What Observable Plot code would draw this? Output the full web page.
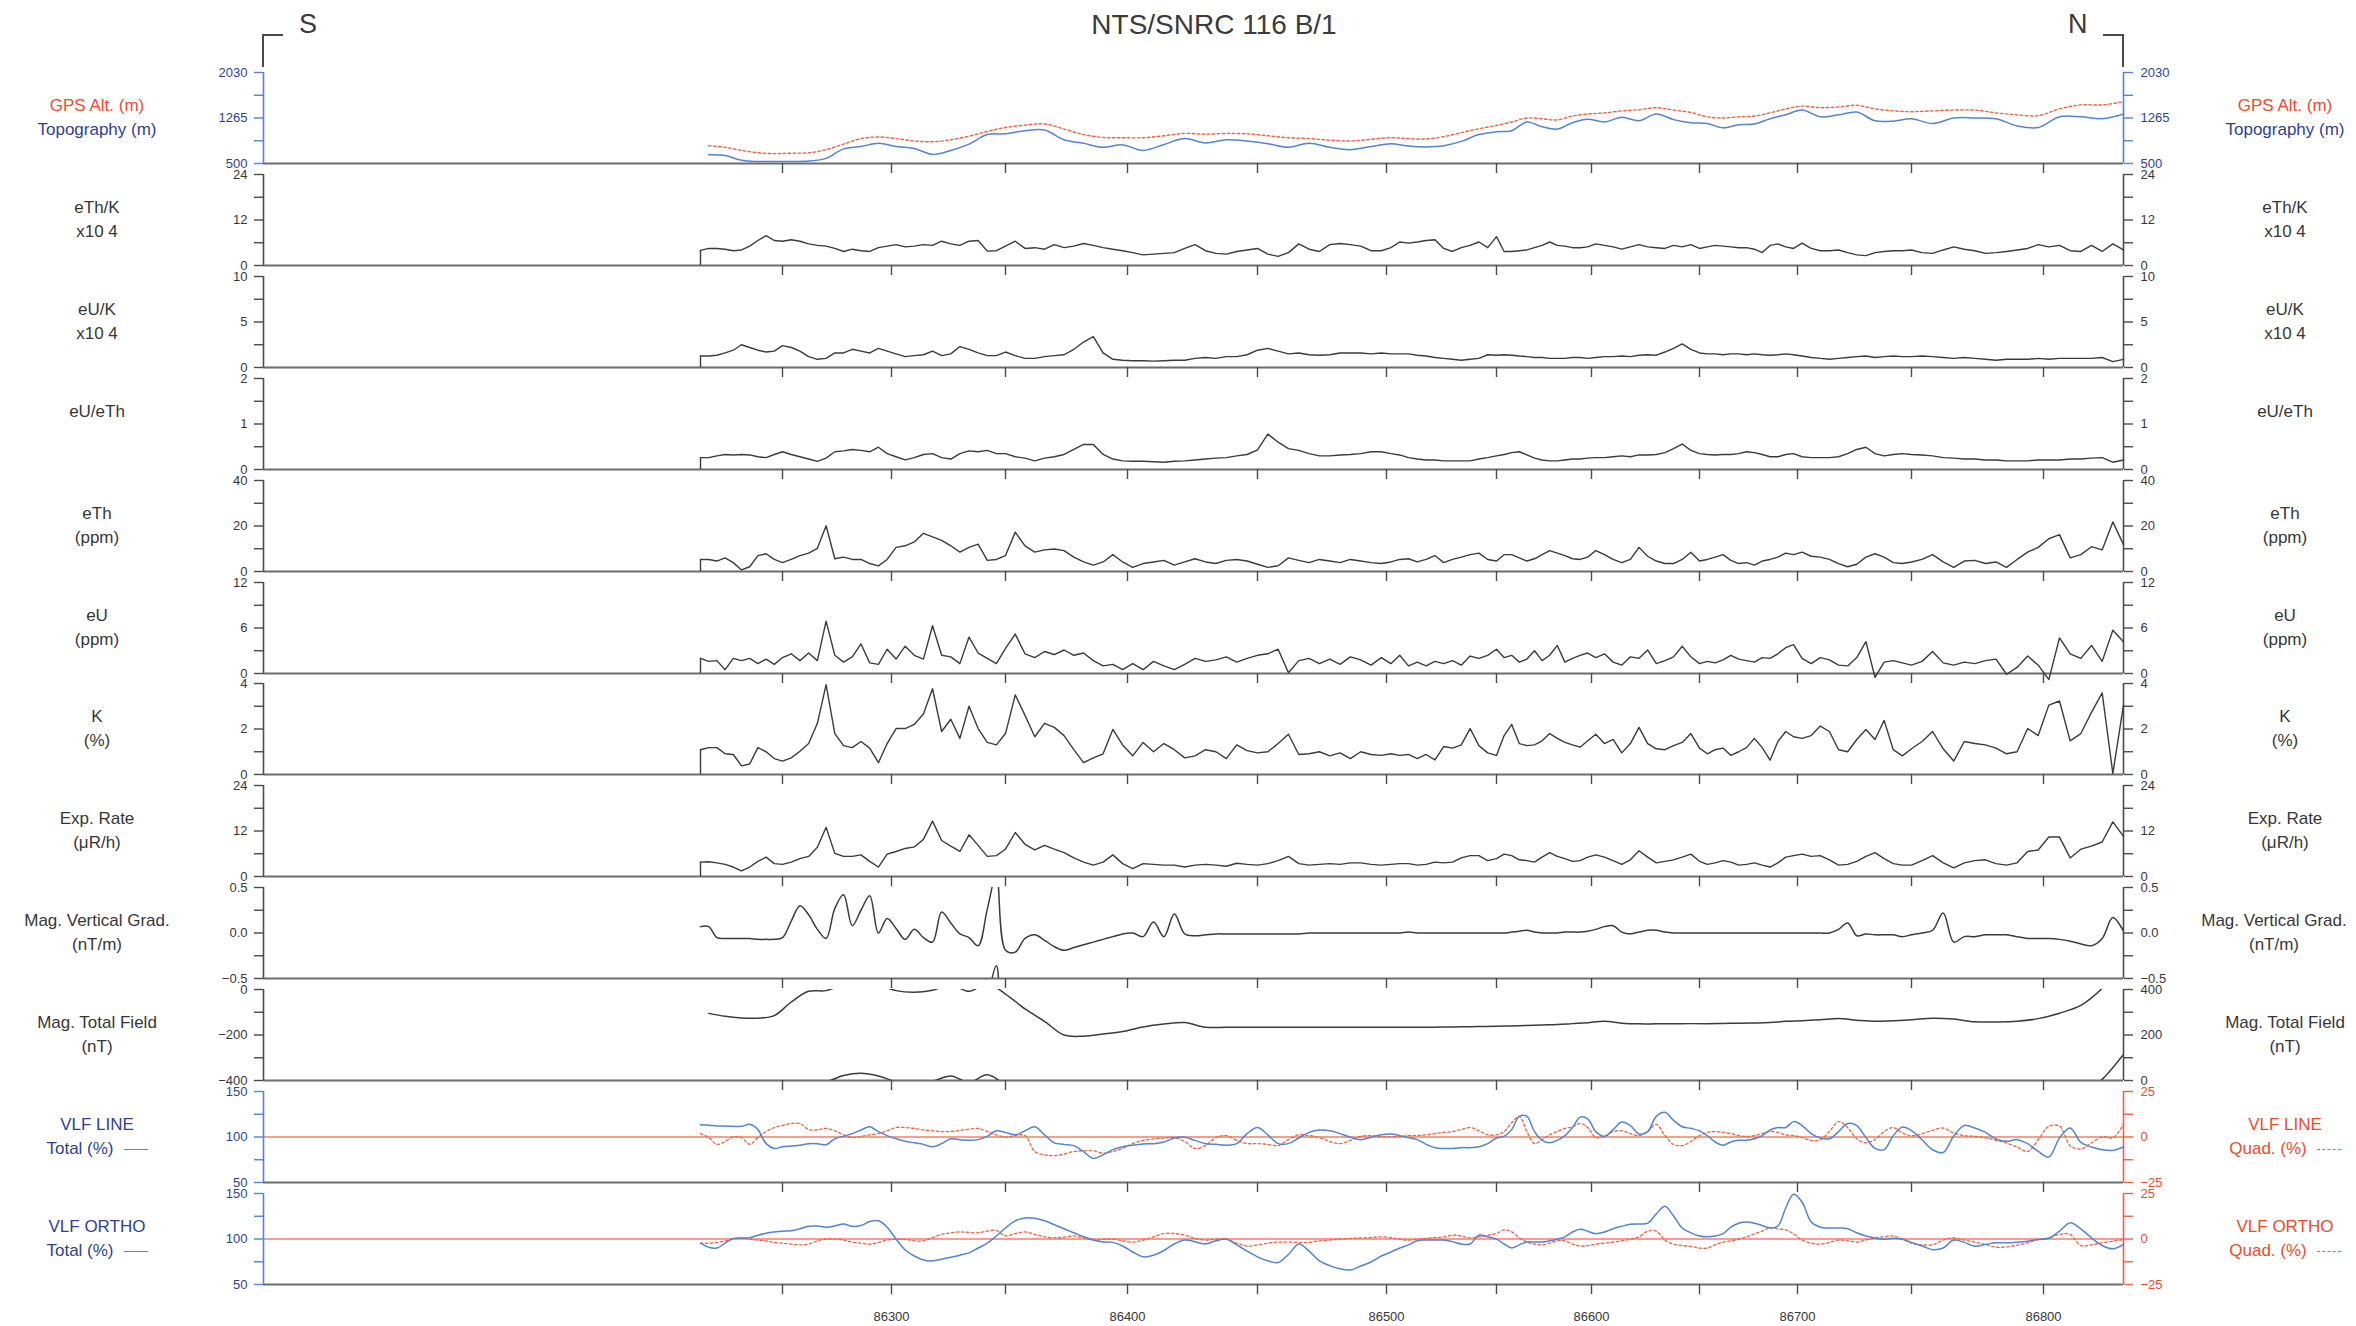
<!DOCTYPE html>
<html><head><meta charset="utf-8">
<script src="https://cdn.jsdelivr.net/npm/d3@7"></script>
<script src="https://cdn.jsdelivr.net/npm/@observablehq/plot@0.6"></script>
<style>
html,body{margin:0;padding:0;background:#fff;}
#chart{position:relative;width:2356px;height:1326px;overflow:hidden;font-family:"Liberation Sans",Arial,Helvetica,sans-serif;color:#363636;background:#fff;}
.lbl{position:absolute;text-align:center;font-size:17px;line-height:24px;white-space:nowrap;}
.mk{display:inline-block;width:24px;height:0;vertical-align:middle;margin-left:10px;}
</style></head><body><div id="chart"></div>
<script>
// ---------------- DATA ----------------
// sample fiducials
const fineFid = d3.range(86210, 86831, 4);    // 156 samples
const coarseFid = d3.range(86214, 86831, 8);  // 78 samples
// x-axis fiducial ticks and labels
const tickFid = d3.range(86250, 86801, 50);
const labelFid = [86300, 86400, 86500, 86600, 86700, 86800];
// fiducial knots of the (non-uniform) flight-line axis
const knotFid = [86000, 86210, 86250, 86300, 86350, 86400, 86450, 86500, 86550, 86600, 86650, 86700, 86750, 86800, 86830];

const topography = [646,633,553,533,533,533,540,586,746,786,
839,786,753,653,720,826,986,999,1052,1065,
899,839,773,813,720,819,919,846,899,879,
833,773,839,773,733,786,833,793,
779,799,872,986,1032,1052,1198,1119,1079,1185,
1245,1198,1278,1218,1331,1238,1185,1172,1099,1152,
1165,1252,1318,1398,1285,1318,1365,1218,1212,1252,
1172,1265,1265,1252,1132,1105,1285,1285,1252,1331];

const gpsAlt = [799,773,720,680,666,673,680,733,826,919,
946,919,879,866,899,959,1039,1105,1145,1165,
1079,986,939,933,933,966,1006,992,1006,999,
966,933,919,892,879,906,933,919,
912,952,1019,1085,1139,1198,1265,1252,1232,1298,
1331,1351,1385,1405,1438,1398,1358,1285,1265,1285,
1298,1351,1418,1465,1438,1451,1478,1418,1385,1371,
1385,1398,1398,1351,1318,1305,1418,1485,1485,1538];

const magTotal = [-105,-118,-125,-126,-115,-55,-8,-5,22,32,
20,-5,-12,-3,20,-8,25,-20,-85,-140,
-200,-205,-196,-185,-165,-152,-145,-166,-166,-166,
-166,-166,-166,-166,-166,-166,-166,-166,
-166,-165,-164,-163,-162,-160,-158,-156,-154,-150,
-146,-140,-148,-151,-151,-151,-150,-150,-149,-148,
-147,-145,-140,-137,-133,-128,-135,-140,-137,-133,
-126,-130,-142,-143,-140,-128,-104,-70,5,115];

const ethK = [4.0,4.5,4.5,4.3,3.9,4.1,5.1,6.6,7.9,6.6,
6.4,6.8,6.4,5.7,5.3,5.1,4.5,3.7,4.3,3.9,
3.7,4.7,5.1,5.5,4.9,5.1,5.5,5.3,6.4,5.7,
5.3,6.4,6.6,3.8,3.9,5.1,6.4,4.5,4.7,4.3,
5.5,4.7,5.1,5.8,5.3,4.7,4.3,3.9,3.4,2.8,
3.0,3.2,3.4,4.5,5.5,3.9,3.2,3.0,3.7,4.1,
4.5,3.0,2.4,3.4,5.7,4.3,3.7,5.5,5.8,5.5,
5.1,3.9,3.9,4.7,6.2,5.9,
6.2,6.6,6.8,4.5,3.7,4.7,5.3,6.2,4.7,7.6,
3.7,3.7,3.9,4.1,4.7,5.3,6.2,5.3,5.1,4.7,
4.7,4.9,5.7,5.3,4.9,4.3,4.9,5.5,4.9,4.7,
4.5,5.3,4.9,5.5,4.5,4.9,5.3,5.1,4.9,4.7,
4.7,4.3,3.4,5.3,5.7,4.9,4.5,5.9,4.5,3.9,
3.9,4.1,3.4,2.8,2.6,3.4,3.7,3.9,3.9,4.1,
3.4,3.2,4.1,4.9,4.3,3.9,3.2,3.4,3.7,4.1,
4.5,5.5,4.9,5.3,3.9,3.7,5.3,3.7,5.7,4.1];

const eUK = [1.26,1.26,1.35,1.6,1.9,2.5,2.2,1.9,1.7,1.8,
2.4,2.2,1.8,1.2,0.9,1.0,1.6,1.6,2.0,1.8,
1.6,2.1,1.8,1.5,1.2,1.3,1.4,1.8,1.3,1.5,
2.3,2.0,1.6,1.3,1.3,1.7,1.3,1.0,1.0,1.2,
1.3,1.4,2.0,2.8,3.4,1.6,0.9,0.8,0.74,0.74,
0.7,0.74,0.8,0.8,1.0,1.1,1.0,1.2,1.2,1.4,
1.9,2.1,1.8,1.5,1.6,1.4,1.35,1.4,1.6,1.6,
1.6,1.5,1.6,1.5,1.5,1.5,
1.35,1.26,1.1,1.0,0.9,0.8,0.9,1.0,1.4,1.35,
1.4,1.35,1.26,1.2,1.1,1.1,1.0,1.0,1.0,1.1,
1.1,1.0,1.1,1.2,1.2,1.26,1.2,1.35,1.4,1.35,
1.7,2.1,2.6,2.0,1.6,1.5,1.5,1.4,1.5,1.5,
1.4,1.5,1.4,1.35,1.4,1.5,1.4,1.26,1.1,1.0,
0.9,1.0,1.1,1.2,1.26,1.1,1.2,1.26,1.2,1.2,
1.26,1.2,1.1,1.0,1.1,1.0,0.9,0.8,0.9,0.9,
0.9,1.0,0.9,1.0,1.0,1.0,1.0,1.1,0.65,0.9];

const eUeTh = [0.26,0.26,0.30,0.33,0.32,0.33,0.32,0.28,0.26,0.33,
0.39,0.33,0.28,0.23,0.18,0.25,0.39,0.41,0.44,0.42,
0.39,0.49,0.35,0.28,0.21,0.26,0.33,0.35,0.26,0.23,
0.35,0.41,0.39,0.42,0.35,0.35,0.28,0.25,0.19,0.25,
0.28,0.33,0.44,0.55,0.55,0.33,0.23,0.19,0.18,0.18,
0.17,0.16,0.18,0.19,0.21,0.23,0.25,0.26,0.30,0.33,
0.43,0.78,0.60,0.46,0.42,0.35,0.30,0.30,0.32,0.33,
0.35,0.39,0.39,0.35,0.32,0.26,
0.23,0.21,0.21,0.19,0.19,0.19,0.19,0.23,0.26,0.30,
0.33,0.37,0.39,0.32,0.25,0.21,0.19,0.19,0.21,0.23,
0.23,0.25,0.26,0.26,0.28,0.30,0.28,0.32,0.32,0.33,
0.37,0.46,0.56,0.42,0.35,0.33,0.32,0.33,0.33,0.35,
0.39,0.37,0.33,0.28,0.28,0.33,0.35,0.28,0.26,0.26,
0.26,0.28,0.35,0.44,0.49,0.35,0.30,0.33,0.35,0.33,
0.32,0.30,0.26,0.25,0.23,0.23,0.21,0.21,0.19,0.19,
0.19,0.21,0.21,0.21,0.23,0.23,0.25,0.26,0.16,0.21];

const eTh = [5.3,5.3,4.6,6.0,3.9,0.7,2.1,7.0,7.8,5.3,
3.9,5.3,7.0,8.1,10.2,20.1,5.6,6.3,5.3,5.3,
3.5,2.5,5.3,10.6,11.3,13.0,16.8,15.2,13.7,11.3,
8.5,10.6,12.0,4.9,5.3,7.0,17.3,11.3,8.5,9.5,
9.9,9.2,6.3,4.2,2.8,4.2,7.4,4.2,1.8,3.5,
4.2,4.9,2.8,4.2,5.6,4.2,3.5,4.9,5.3,4.6,
3.2,1.8,2.5,6.0,4.9,3.9,5.3,4.6,3.9,5.3,
4.6,3.9,3.5,4.2,5.3,5.6,
4.2,5.3,7.0,3.9,5.3,6.3,7.4,8.1,5.3,4.6,
7.4,7.4,6.0,4.6,5.6,7.4,9.2,8.1,7.0,5.6,
5.3,6.3,9.2,7.4,5.3,3.9,5.3,10.6,6.7,4.6,
3.5,3.5,5.3,8.5,4.6,5.3,6.3,7.4,4.9,3.5,
3.9,2.8,4.6,5.3,6.3,8.1,7.4,8.5,6.7,6.3,
5.3,3.5,2.1,3.2,6.3,7.8,6.3,3.9,3.5,4.2,
5.3,7.4,4.2,1.8,4.6,4.9,3.5,4.2,1.8,5.3,
8.5,10.6,14.4,16.2,6.0,7.4,10.9,9.5,21.8,11.8];

const eU = [2.0,1.6,1.7,0.5,2.0,1.7,2.0,1.3,1.9,1.2,
2.1,2.6,1.7,2.7,1.7,6.9,2.4,1.5,2.2,3.9,
1.4,1.2,3.2,1.9,3.6,2.4,1.9,6.3,2.4,2.2,
1.3,4.8,2.7,2.0,1.3,3.3,5.2,2.6,2.1,2.9,
2.5,3.1,2.4,2.7,1.7,1.0,1.2,0.5,1.3,0.5,
1.6,1.0,0.5,1.2,2.0,1.6,1.8,2.2,1.5,2.0,
2.4,2.6,3.2,0.1,1.7,2.0,1.3,1.9,1.2,2.2,
1.8,1.1,2.1,1.3,2.4,1.0,
1.5,1.0,1.6,1.3,1.7,1.1,2.3,2.0,2.4,3.2,
2.1,2.4,1.5,1.9,3.0,1.7,2.4,3.7,1.5,2.0,
2.4,2.7,2.1,2.6,1.5,1.1,2.2,2.0,3.1,1.3,
1.7,2.2,3.6,2.2,1.3,1.6,1.4,1.8,2.4,1.9,
1.7,1.5,2.1,2.0,2.6,3.4,3.8,2.0,1.3,2.1,
1.8,1.1,1.0,2.1,4.2,-0.5,1.5,1.7,1.4,1.1,
1.6,2.9,1.4,1.1,1.5,1.3,1.7,1.9,-0.1,0.8,
2.3,1.1,-0.8,4.7,2.6,2.0,3.7,1.6,5.7,4.2];

const potassium = [1.09,1.18,1.18,0.91,0.88,0.38,0.46,1.18,1.0,0.70,
0.59,0.73,1.02,1.36,2.25,3.95,1.8,1.27,1.18,1.45,
1.16,0.52,1.36,2.02,2.02,2.2,2.66,3.77,1.89,2.43,
1.59,3.0,2.02,1.41,1.3,1.8,3.5,2.6,1.66,2.25,
2.07,1.71,1.09,0.52,0.73,0.91,1.98,1.3,0.82,1.41,
1.0,1.36,1.09,0.73,0.82,1.09,1.0,0.7,1.3,1.05,
0.95,1.0,1.36,1.77,0.88,0.91,1.0,0.82,0.95,0.70,
1.0,0.88,0.84,0.91,0.84,0.88,
0.7,0.88,0.64,1.23,1.16,1.3,2.02,1.27,0.95,0.84,
1.71,2.2,1.36,1.27,1.3,1.48,1.8,1.59,1.41,1.3,
1.2,1.48,1.77,1.36,1.54,0.95,1.36,2.07,1.36,1.13,
1.09,1.27,1.41,1.8,1.16,0.91,1.09,1.16,0.84,1.0,
1.18,1.59,1.18,0.63,1.45,1.89,1.66,1.59,1.71,2.13,
1.89,1.09,1.0,1.54,1.98,1.54,2.38,1.09,0.82,1.13,
1.45,1.89,1.13,0.59,1.45,1.36,1.3,1.16,0.91,1.0,
2.02,1.71,3.05,3.23,1.48,1.8,2.73,3.59,0.05,3.05];

const expRate = [3.8,3.9,3.6,3.2,2.5,1.5,2.5,4.0,5.1,3.4,
3.2,3.8,4.7,5.3,7.7,13.0,6.1,5.3,5.3,5.7,
4.0,2.5,5.9,6.6,7.4,7.8,9.8,14.6,9.5,8.0,
6.6,11.0,8.2,5.3,5.5,7.2,11.6,8.5,7.0,8.2,
7.2,6.3,4.9,3.8,3.0,3.8,5.7,3.4,2.1,3.4,
3.2,3.0,3.0,2.5,3.0,3.2,3.0,2.7,3.5,3.2,
3.0,3.4,4.2,5.3,3.4,3.0,3.2,3.4,3.2,3.6,
3.6,3.2,3.0,3.2,3.4,3.4,
3.0,3.2,3.8,3.6,3.8,4.9,5.5,5.5,4.2,4.7,
5.9,5.5,4.4,4.2,3.8,5.1,6.3,5.3,4.7,4.0,
4.2,5.1,5.7,5.1,4.2,3.2,4.4,6.8,5.1,3.6,
4.0,4.4,5.1,5.9,4.0,3.2,3.6,4.2,3.8,3.0,
3.2,3.6,3.0,2.5,3.6,5.1,5.5,5.9,5.3,5.5,
4.4,3.0,3.2,4.0,5.3,6.3,4.7,3.4,3.0,3.0,
4.2,5.5,3.6,2.3,3.6,4.2,4.4,3.4,3.0,3.6,
6.6,7.0,10.4,10.4,4.9,7.2,8.0,9.1,14.4,10.6];

const magVert = [0.07,0.07,-0.05,-0.06,-0.06,-0.06,-0.06,-0.07,-0.07,-0.07,
-0.05,0.13,0.30,0.20,0.04,-0.06,0.27,0.42,0.08,0.25,
0.41,0.0,0.16,0.05,-0.07,0.04,-0.05,-0.10,0.23,0.11,
-0.01,-0.05,-0.14,0.26,0.64,-0.19,-0.21,-0.06,-0.02,-0.08,
-0.15,-0.19,-0.16,-0.13,-0.10,-0.07,-0.04,-0.01,0.0,-0.04,
0.12,-0.04,0.21,-0.01,-0.03,-0.02,-0.01,-0.01,-0.01,-0.01,
-0.01,-0.01,-0.01,-0.01,-0.01,0.0,0.0,0.0,0.0,0.0,
0.0,0.0,0.0,0.0,0.0,0.01,
0.0,0.0,0.0,0.0,0.0,0.0,0.0,0.0,0.0,0.0,
0.0,0.01,0.02,0.03,0.01,0.0,0.0,0.0,0.01,0.01,
0.01,0.02,0.04,0.07,0.08,0.01,-0.01,0.01,0.03,0.03,
0.01,0.0,0.0,0.0,0.0,0.0,0.0,0.0,0.0,0.0,
0.0,0.0,0.0,0.0,0.0,0.0,0.0,0.0,0.0,0.0,
0.0,0.04,0.11,-0.03,-0.01,-0.02,-0.02,-0.02,-0.04,-0.02,
0.0,0.03,0.22,-0.10,-0.04,-0.04,-0.02,-0.02,-0.02,-0.04,
-0.06,-0.06,-0.06,-0.07,-0.09,-0.12,-0.14,-0.06,0.17,0.02];

const vlfLineTotal = [113.4,113.0,112.1,112.1,111.7,111.7,113.9,108.1,92.7,87.4,
89.2,90.1,91.0,92.7,92.7,91.4,98.0,100.7,103.7,107.7,
111.2,105.9,101.5,98.0,95.4,93.6,91.9,89.2,92.7,98.0,
97.1,96.3,97.1,100.7,106.8,105.1,102.4,106.8,111.2,102.4,
93.6,91.9,90.5,83.9,76.4,80.4,86.1,89.2,91.0,92.3,
92.7,94.5,98.9,99.8,96.3,92.7,91.9,91.0,92.7,103.7,
110.4,102.4,92.7,92.7,98.9,105.1,107.7,106.8,103.7,99.8,
97.1,99.8,102.4,103.3,101.5,99.3,
97.1,91.9,88.3,87.4,87.4,88.3,88.3,89.2,92.7,98.9,
100.7,108.1,122.7,122.7,105.9,96.3,93.6,96.3,101.5,110.4,
121.8,120.0,105.9,100.7,108.1,116.5,112.6,103.3,105.9,122.7,
127.1,118.3,111.2,109.5,106.8,101.5,94.5,91.0,94.5,96.3,
96.3,98.0,101.5,107.7,110.4,110.4,116.9,112.6,103.7,98.9,
98.0,105.9,114.8,112.6,99.3,87.4,86.1,101.5,111.0,107.0,
97.0,86.0,83.0,101.0,112.7,109.9,105.1,97.8,95.2,97.1,
92.7,84.2,78.0,98.9,109.9,94.1,89.0,86.1,85.3,89.0];

const vlfLineQuad = [1.9,-0.3,-4.0,-2.5,0.1,-0.3,-4.0,-0.3,3.0,5.2,
6.3,7.4,7.4,4.1,3.9,4.7,3.4,1.2,-0.3,0.3,
1.2,1.9,3.4,5.2,5.2,4.7,3.9,3.4,3.0,3.0,
3.6,4.3,4.7,3.0,1.2,-0.1,0.8,0.8,-8.0,-9.8,
-10.2,-9.4,-8.0,-7.6,-7.6,-8.9,-8.0,-6.3,-3.6,-1.9,
-1.0,-0.6,-0.3,-2.5,-6.3,-4.7,-0.3,0.8,-1.9,-3.6,
-3.6,-4.1,-4.7,-1.4,1.2,0.8,-0.3,-2.5,-3.6,-1.9,
0.3,0.8,0.1,0.1,0.3,0.8,
0.8,1.2,1.9,2.5,3.0,4.1,5.2,3.4,1.2,1.2,
3.0,7.8,11.3,3.0,-3.6,-1.4,1.2,3.0,4.7,5.6,
7.4,5.2,-0.3,0.3,3.0,3.4,1.9,0.8,3.0,6.9,
0.8,-4.1,-4.7,-2.5,0.8,2.5,3.0,2.5,1.9,0.8,
0.3,0.8,1.9,3.0,2.5,1.2,0.8,-0.3,-1.9,-1.4,
3.0,8.5,5.2,-1.0,-3.2,-1.4,3.0,5.2,2.2,0.7,
1.8,3.7,4.9,2.2,0.7,0.4,-0.4,-1.8,-3.3,-5.5,
-7.9,-1.5,5.9,5.9,-4.8,-6.6,-3.3,0.0,-0.4,6.8];

const vlfOrthoTotal = [95.4,91.0,90.1,95.4,100.7,101.1,101.5,104.2,106.4,107.7,
108.6,109.0,111.2,113.9,114.3,113.0,114.3,116.5,113.9,114.8,
119.2,120.0,113.0,99.8,87.9,81.3,76.9,76.0,77.8,79.9,
82.2,84.8,90.1,95.4,103.3,112.1,120.0,123.1,122.7,120.0,
115.7,111.2,106.8,102.4,98.9,96.7,96.3,92.3,85.7,80.4,
82.2,87.4,94.5,98.9,97.1,94.5,98.0,99.8,93.6,86.6,
80.4,76.0,74.2,83.0,94.5,86.6,76.0,70.7,67.2,65.9,
70.3,74.7,81.3,85.7,90.1,93.6,
98.0,98.9,98.9,98.9,97.1,94.5,94.5,104.2,102.4,99.8,
94.5,90.1,93.6,96.7,96.7,96.7,98.0,99.8,102.4,107.7,
110.8,108.6,105.9,107.7,111.2,113.9,116.1,116.5,117.4,127.5,
135.9,125.3,112.1,106.8,103.3,102.4,103.3,105.9,113.0,117.4,
118.7,117.4,114.8,112.1,114.3,134.1,149.1,140.7,118.7,113.0,
112.1,112.1,111.2,106.8,103.3,101.1,99.8,100.7,99.8,96.3,
92.3,88.3,90.1,98.9,96.3,92.1,94.0,95.8,95.8,96.5,
97.6,99.5,100.9,108.6,117.8,111.2,101.3,92.9,89.2,94.0];

const vlfOrthoQuad = [-2.3,-2.3,-1.9,-1.0,-0.1,0.6,-0.1,-0.6,-1.0,-1.9,
-2.3,-2.8,-3.2,-2.8,-1.0,-0.1,-0.1,-0.6,-1.7,-2.3,
-2.8,-1.9,-0.6,-0.1,-0.1,-1.0,-1.0,0.8,2.5,3.4,
3.9,3.6,3.4,4.3,4.7,1.7,3.0,3.9,2.5,1.2,
0.6,1.0,1.7,0.6,-0.6,-0.3,-0.1,-1.0,-1.7,-0.6,
1.2,3.0,3.0,2.1,0.3,-0.6,-0.1,-0.1,-2.3,-3.9,
-3.2,-2.3,-1.7,-1.7,-1.9,-1.9,-1.0,-0.6,-0.1,0.3,
0.6,0.8,1.2,0.8,-0.1,-0.6,
-0.1,0.3,0.8,1.2,2.1,1.7,0.6,1.2,2.1,3.0,
5.0,3.9,0.6,-1.7,-2.8,-3.2,-2.3,-1.0,-1.0,-2.8,
-3.9,-3.6,-2.8,-2.3,-1.7,-1.0,-0.1,1.2,4.3,4.3,
-0.6,-2.8,-3.6,-4.1,-5.0,-5.0,-3.2,-1.7,-1.0,-0.1,
1.2,2.8,4.3,6.1,5.6,5.0,2.8,-0.6,-2.3,-2.8,
-1.9,-0.6,-1.0,-1.7,-0.6,0.6,1.2,1.7,-0.1,-2.3,
-3.2,-3.2,-0.6,0.6,-0.6,-1.7,-3.0,-4.5,-4.3,-3.4,
-2.1,-0.3,0.6,2.5,2.5,-3.6,-3.2,-2.1,-1.2,-0.3];

// ---------------- LAYOUT / STYLE ----------------
const W = 2356;
const knotPx = [263, 700, 782, 891, 1005, 1127, 1257, 1386, 1496, 1591, 1699, 1797, 1911, 2043, 2123];
const TOP0 = 72, PITCH = 101.9, PANEL_H = 91, MT = 12, MB = 46;
const FONT = '"Liberation Sans", Arial, Helvetica, sans-serif';
const C = {dark:"#3b3b3b", axis:"#4a4a4a", base:"#6c6c6c", text:"#363636",
  blue:"#5383d3", navy:"#2f3f92", red:"#f2603f", redText:"#ee4b2b", zero:"#f47f66"};

const f0 = d3.format("d"), f1 = d3.format(".1f");
const grey = {lc:C.axis, lt:C.text, rc:C.axis, rt:C.text};
const rad = (values, extra) => [{fid: fineFid, values, color: C.dark, width: 1.4, startRule: true, ...extra}];

const panelDefs = [
  {domain:[500,2030], major:[500,1265,2030], minor:[882.5,1647.5], lc:C.blue, lt:C.navy, rc:C.blue, rt:C.navy, fmtL:f0, fmtR:f0,
   left:[["GPS Alt. (m)",C.redText],["Topography (m)",C.navy]], right:[["GPS Alt. (m)",C.redText],["Topography (m)",C.navy]],
   series:[{fid:coarseFid, values:gpsAlt, color:C.red, width:1.4, dash:"2.5,2.5", curve:"catmull-rom"},
           {fid:coarseFid, values:topography, color:C.blue, width:1.5, curve:"catmull-rom"}]},
  {domain:[0,24], major:[0,12,24], minor:[6,18], ...grey, fmtL:f0, fmtR:f0,
   left:[["eTh/K"],["x10 4"]], right:[["eTh/K"],["x10 4"]], series: rad(ethK)},
  {domain:[0,10], major:[0,5,10], minor:[2.5,7.5], ...grey, fmtL:f0, fmtR:f0,
   left:[["eU/K"],["x10 4"]], right:[["eU/K"],["x10 4"]], series: rad(eUK)},
  {domain:[0,2], major:[0,1,2], minor:[0.5,1.5], ...grey, fmtL:f0, fmtR:f0,
   left:[["eU/eTh"]], right:[["eU/eTh"]], series: rad(eUeTh)},
  {domain:[0,40], major:[0,20,40], minor:[10,30], ...grey, fmtL:f0, fmtR:f0,
   left:[["eTh"],["(ppm)"]], right:[["eTh"],["(ppm)"]], series: rad(eTh)},
  {domain:[0,12], major:[0,6,12], minor:[3,9], ...grey, fmtL:f0, fmtR:f0,
   left:[["eU"],["(ppm)"]], right:[["eU"],["(ppm)"]], series: rad(eU)},
  {domain:[0,4], major:[0,2,4], minor:[1,3], ...grey, fmtL:f0, fmtR:f0,
   left:[["K"],["(%)"]], right:[["K"],["(%)"]], series: rad(potassium)},
  {domain:[0,24], major:[0,12,24], minor:[6,18], ...grey, fmtL:f0, fmtR:f0,
   left:[["Exp. Rate"],["(\u03bcR/h)"]], right:[["Exp. Rate"],["(\u03bcR/h)"]], series: rad(expRate)},
  {domain:[-0.5,0.5], major:[-0.5,0,0.5], minor:[-0.25,0.25], ...grey, fmtL:f1, fmtR:f1, rcx:2274,
   left:[["Mag. Vertical Grad."],["(nT/m)"]], right:[["Mag. Vertical Grad."],["(nT/m)"]],
   series:[{fid:fineFid, values:magVert, color:C.dark, width:1.5, curve:"catmull-rom", wrap:1}]},
  {domain:[-400,0], major:[-400,-200,0], minor:[-300,-100], ...grey, fmtL:f0, fmtR: d => f0(d + 400),
   left:[["Mag. Total Field"],["(nT)"]], right:[["Mag. Total Field"],["(nT)"]],
   series:[{fid:coarseFid, values:magTotal, color:C.dark, width:1.5, curve:"catmull-rom", wrap:400}]},
  {domain:[50,150], major:[50,100,150], minor:[75,125], lc:C.blue, lt:C.navy, rc:C.red, rt:C.redText, zero:100,
   fmtL:f0, fmtR: d => f0((d - 100) / 2),
   left:[["VLF LINE",C.navy],["Total (%)",C.navy,"solid"]], right:[["VLF LINE",C.redText],["Quad. (%)",C.redText,"dashed"]],
   series:[{fid:fineFid, values:vlfLineQuad, color:C.red, width:1.3, dash:"2.5,2.5", curve:"catmull-rom", quad:true},
           {fid:fineFid, values:vlfLineTotal, color:C.blue, width:1.5, curve:"catmull-rom"}]},
  {domain:[50,150], major:[50,100,150], minor:[75,125], lc:C.blue, lt:C.navy, rc:C.red, rt:C.redText, zero:100,
   fmtL:f0, fmtR: d => f0((d - 100) / 2),
   left:[["VLF ORTHO",C.navy],["Total (%)",C.navy,"solid"]], right:[["VLF ORTHO",C.redText],["Quad. (%)",C.redText,"dashed"]],
   series:[{fid:fineFid, values:vlfOrthoQuad, color:C.red, width:1.3, dash:"2.5,2.5", curve:"catmull-rom", quad:true},
           {fid:fineFid, values:vlfOrthoTotal, color:C.blue, width:1.5, curve:"catmull-rom"}]}
];

// ---------------- DRAW ----------------
const root = document.getElementById("chart");

function seriesMarks(s, p) {
  const rows = s.fid.map((f, k) => ({f, v: s.values[k]}));
  const base = {x: "f", stroke: s.color, strokeWidth: s.width, curve: s.curve || "linear"};
  if (s.dash) base.strokeDasharray = s.dash;
  const out = [];
  if (s.wrap) {
    out.push(Plot.line(rows, {...base, y: "v", clip: true}));
    out.push(Plot.line(rows, {...base, y: d => d.v - s.wrap, clip: true}));
  } else if (s.quad) {
    out.push(Plot.line(rows, {...base, y: d => 100 + 2 * d.v}));
  } else {
    out.push(Plot.line(rows, {...base, y: "v"}));
  }
  if (s.startRule) out.push(Plot.ruleX([rows[0]], {x: "f", y1: p.domain[0], y2: "v", stroke: s.color, strokeWidth: s.width}));
  return out;
}

function addLabel(lines, cx, top) {
  const d = document.createElement("div");
  d.className = "lbl";
  d.style.left = (cx - 120) + "px";
  d.style.width = "240px";
  d.style.top = top + "px";
  lines.forEach(([t, col, marker]) => {
    const r = document.createElement("div");
    r.style.color = col || C.text;
    r.appendChild(document.createTextNode(t));
    if (marker) {
      const m = document.createElement("span");
      m.className = "mk";
      m.style.borderTop = (marker === "solid" ? "1.6px solid " + C.blue : "1.5px dashed " + C.red);
      r.appendChild(m);
    }
    d.appendChild(r);
  });
  root.appendChild(d);
}

panelDefs.forEach((p, i) => {
  const top = TOP0 + i * PITCH;
  const allTicks = p.major.concat(p.minor);
  const marks = [];
  marks.push(Plot.ruleY([p.domain[0]], {stroke: C.base, strokeWidth: 2}));
  if (p.zero !== undefined) marks.push(Plot.ruleY([p.zero], {stroke: C.zero, strokeWidth: 1.3}));
  marks.push(Plot.axisX({anchor: "bottom", ticks: tickFid, tickSize: 10, tickFormat: () => "", stroke: C.axis, strokeWidth: 1.4, label: null}));
  if (i === panelDefs.length - 1) {
    marks.push(Plot.axisX({anchor: "bottom", ticks: labelFid, tickSize: 0, tickPadding: 27, tickFormat: f0, fill: C.text, label: null}));
  }
  marks.push(Plot.axisY({anchor: "left", ticks: allTicks, tickSize: 9, tickPadding: 7,
    tickFormat: d => p.major.includes(d) ? p.fmtL(d) : "", stroke: p.lc, fill: p.lt, strokeWidth: 1.4, label: null}));
  marks.push(Plot.axisY({anchor: "right", ticks: allTicks, tickSize: 9, tickPadding: 8,
    tickFormat: d => p.major.includes(d) ? p.fmtR(d) : "", stroke: p.rc, fill: p.rt, strokeWidth: 1.4, label: null}));
  marks.push(Plot.ruleX([knotFid[0]], {stroke: p.lc, strokeWidth: 1.6}));
  marks.push(Plot.ruleX([knotFid[knotFid.length - 1]], {stroke: p.rc, strokeWidth: 1.6}));
  p.series.forEach(s => marks.push(...seriesMarks(s, p)));

  const svg = Plot.plot({
    width: W, height: PANEL_H + MT + MB,
    marginLeft: knotPx[0], marginRight: W - knotPx[knotPx.length - 1], marginTop: MT, marginBottom: MB,
    x: {type: "linear", domain: knotFid, range: knotPx},
    y: {domain: p.domain},
    style: {background: "transparent", overflow: "visible", fontFamily: FONT, fontSize: "13px", color: C.text},
    marks
  });
  const wrap = document.createElement("div");
  wrap.style.cssText = "position:absolute;left:0;top:" + (top - MT) + "px;";
  wrap.appendChild(svg);
  root.appendChild(wrap);

  const labTop = top + PANEL_H / 2 - 23.5;
  addLabel(p.left, 97, labTop);
  addLabel(p.right, p.rcx || 2285, labTop);
});

// title, direction letters, brackets
function addText(txt, x, y, size, align, w) {
  const d = document.createElement("div");
  d.textContent = txt;
  d.style.cssText = `position:absolute;left:${x}px;top:${y}px;width:${w}px;text-align:${align};font-size:${size}px;line-height:${size + 8}px;color:#3a3a3a;white-space:nowrap;`;
  root.appendChild(d);
}
addText("NTS/SNRC 116 B/1", 1214 - 300, 7, 28, "center", 600);
addText("S", 299, 7, 27, "left", 40);
addText("N", 2068, 7, 27, "left", 40);
const br1 = document.createElement("div");
br1.style.cssText = "position:absolute;left:262px;top:34px;width:19px;height:31px;border-left:2px solid #4a4a4a;border-top:2px solid #4a4a4a;";
root.appendChild(br1);
const br2 = document.createElement("div");
br2.style.cssText = "position:absolute;left:2103px;top:34px;width:19px;height:31px;border-right:2px solid #4a4a4a;border-top:2px solid #4a4a4a;";
root.appendChild(br2);
</script></body></html>
